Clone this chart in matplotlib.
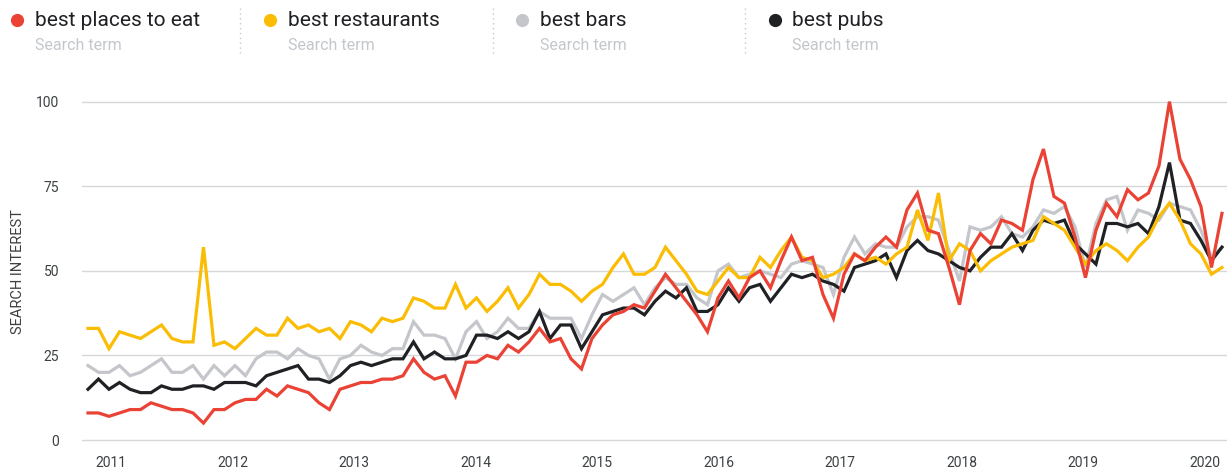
import matplotlib
matplotlib.use('Agg')
import matplotlib.pyplot as plt
from matplotlib.lines import Line2D

terms = ['best places to eat', 'best restaurants', 'best bars', 'best pubs']
colors = ['#ea4335', '#fbbc04', '#c4c6cb', '#202124']

places = [8, 8, 7, 8, 9, 9, 11, 10, 9, 9, 8, 5, 9, 9, 11, 12, 12, 15, 13,
          16, 15, 14, 11, 9, 15, 16, 17, 17, 18, 18, 19, 24, 20, 18, 19, 13, 23,
          23, 25, 24, 28, 26, 29, 33, 29, 30, 24, 21, 30, 34, 37, 38, 40, 39, 44,
          49, 45, 41, 37, 32, 42, 47, 42, 48, 50, 45, 53, 60, 53, 54, 43, 36, 49,
          55, 53, 57, 60, 57, 68, 73, 62, 61, 51, 40, 56, 61, 58, 65, 64, 62, 77,
          86, 72, 70, 60, 48, 62, 70, 66, 74, 71, 73, 81, 100, 83, 77, 69, 51, 67]
restaurants = [33, 33, 27, 32, 31, 30, 32, 34, 30, 29, 29, 57, 28, 29, 27, 30, 33, 31, 31,
               36, 33, 34, 32, 33, 30, 35, 34, 32, 36, 35, 36, 42, 41, 39, 39, 46, 39,
               42, 38, 41, 45, 39, 43, 49, 46, 46, 44, 41, 44, 46, 51, 55, 49, 49, 51,
               57, 53, 49, 44, 43, 47, 51, 48, 48, 54, 51, 56, 60, 54, 53, 48, 49, 51,
               55, 53, 54, 52, 55, 57, 68, 59, 73, 53, 58, 56, 50, 53, 55, 57, 58, 59,
               66, 64, 62, 57, 52, 56, 58, 56, 53, 57, 60, 66, 70, 65, 58, 55, 49, 51]
bars = [22, 20, 20, 22, 19, 20, 22, 24, 20, 20, 22, 18, 22, 19, 22, 19, 24, 26, 26,
        24, 27, 25, 24, 18, 24, 25, 28, 26, 25, 27, 27, 35, 31, 31, 30, 24, 32,
        35, 30, 32, 36, 33, 33, 38, 36, 36, 36, 30, 37, 43, 41, 43, 45, 40, 45,
        48, 46, 46, 42, 40, 50, 52, 48, 49, 50, 49, 48, 52, 53, 52, 51, 43, 54,
        60, 55, 58, 57, 57, 63, 66, 66, 65, 56, 47, 63, 62, 63, 66, 61, 60, 63,
        68, 67, 69, 63, 51, 64, 71, 72, 62, 68, 67, 65, 70, 69, 68, 62, 54, 57]
pubs = [15, 18, 15, 17, 15, 14, 14, 16, 15, 15, 16, 16, 15, 17, 17, 17, 16, 19, 20,
        21, 22, 18, 18, 17, 19, 22, 23, 22, 23, 24, 24, 29, 24, 26, 24, 24, 25,
        31, 31, 30, 32, 30, 32, 38, 30, 34, 34, 27, 32, 37, 38, 39, 39, 37, 41,
        44, 42, 45, 38, 38, 40, 45, 41, 45, 46, 41, 45, 49, 48, 49, 47, 46, 44,
        51, 52, 53, 55, 48, 56, 59, 56, 55, 53, 51, 50, 54, 57, 57, 61, 56, 62,
        65, 64, 65, 58, 55, 52, 64, 64, 63, 64, 61, 69, 82, 65, 64, 59, 53, 57]

years = ['2011', '2012', '2013', '2014', '2015', '2016', '2017', '2018', '2019', '2020']
yticks = [0, 25, 50, 75, 100]

W, H = 1227, 473
plt.rcParams['font.family'] = ['Roboto', 'DejaVu Sans']
fig = plt.figure(figsize=(W / 100, H / 100), dpi=100)

ax_left, ax_right = 82, 1227
ax_top, ax_bot = 98.3, 443.4
ax = fig.add_axes([ax_left / W, 1 - ax_bot / H, (ax_right - ax_left) / W, (ax_bot - ax_top) / H])

series = dict(zip(terms, [places, restaurants, bars, pubs]))
cmap = dict(zip(terms, colors))
x = list(range(len(places)))
for t in ['best bars', 'best pubs', 'best restaurants', 'best places to eat']:
    ax.plot(x, series[t], color=cmap[t], lw=2.3, solid_joinstyle='miter', zorder=3)

ax.set_xlim(-0.571, 108.48)
ax.set_ylim(-1, 101)
ax.set_yticks(yticks)
ax.set_yticklabels([str(v) for v in yticks])
ax.yaxis.grid(True, color='#d5d7db', lw=1.0, zorder=0)
first, step = 2.2, 11.57
ax.set_xticks([first + k * step for k in range(len(years))])
ax.set_xticklabels(years)
for s in ax.spines.values():
    s.set_visible(False)
ax.tick_params(axis='y', length=0, pad=16.5, labelsize=10, labelcolor='#3c4043')
ax.tick_params(axis='x', length=0, pad=9, labelsize=10, labelcolor='#3c4043')

fig.text(18 / W, 1 - 272 / H, 'SEARCH INTEREST', rotation=90, ha='center', va='center',
         fontsize=10.5, color='#3c4043')

# legend header
spacing = 252.5
for k, t in enumerate(terms):
    x0 = 17 + spacing * k
    fig.add_artist(Line2D([x0 / W], [1 - 20.5 / H], marker='o', markersize=9.5,
                          color=colors[k], markeredgewidth=0))
    fig.text((x0 + 18) / W, 1 - 20 / H, t, fontsize=15, color='#202124', va='center', ha='left')
    fig.text((x0 + 18) / W, 1 - 46 / H, 'Search term', fontsize=11.5, color='#c4c7cc',
             va='center', ha='left')
    if k < len(terms) - 1:
        xs = (x0 + 223) / W
        fig.add_artist(Line2D([xs, xs], [1 - 8 / H, 1 - 56 / H], color='#c4c7cc', lw=1,
                              linestyle=(0, (1, 2.5))))

fig.savefig('out.png', dpi=100)
